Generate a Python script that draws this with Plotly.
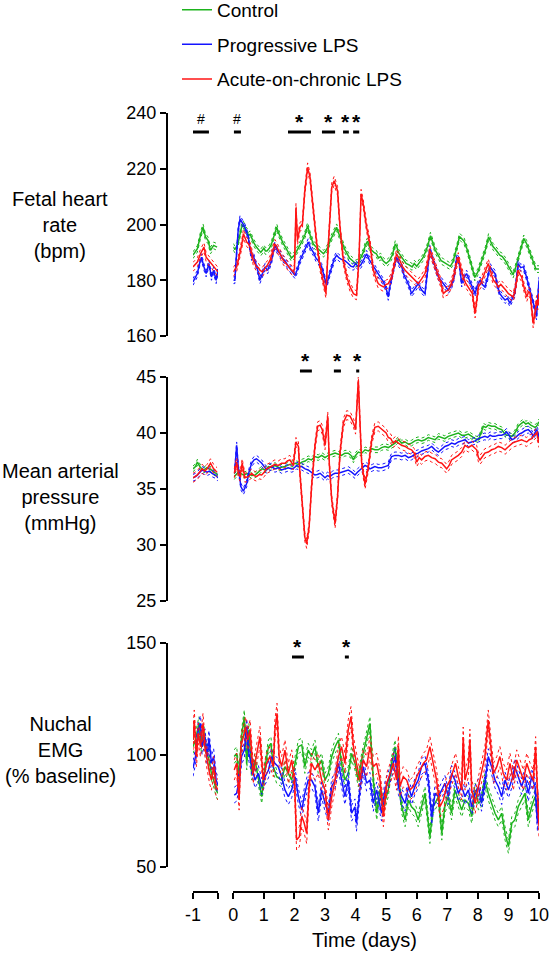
import numpy as np
import plotly.graph_objects as go

# ---------------- DATA ----------------
groups = ["Control", "Progressive LPS", "Acute-on-chronic LPS"]
colors = ["#1db31d", "#1414ff", "#ff1414"]

# Fetal heart rate (bpm) - baseline (day -1)
fhr_base_t = {
    "Control": [-1.0, -0.92, -0.86, -0.76, -0.68, -0.60, -0.52, -0.44, -0.34, -0.23],
    "Progressive LPS": [-1.0, -0.86, -0.79, -0.73, -0.65, -0.58, -0.49, -0.41, -0.34, -0.26, -0.2],
    "Acute-on-chronic LPS": [-1.0, -0.92, -0.86, -0.76, -0.65, -0.58, -0.49, -0.39, -0.28, -0.2],
}
fhr_base_v = {
    "Control": [189, 190.5, 191.3, 196.1, 199, 195.5, 194.3, 190.7, 192.5, 191.9],
    "Progressive LPS": [179.4, 182.4, 186, 188.3, 184.8, 182.4, 186, 181.2, 183.6, 180, 183.6],
    "Acute-on-chronic LPS": [184.8, 186.0, 186.5, 189.5, 191.9, 188.3, 187.1, 185.4, 184.2, 183],
}
fhr_t = {
    "Control": [0.0, 0.05, 0.1, 0.15, 0.21, 0.27, 0.33, 0.4, 0.45, 0.5, 0.55, 0.6, 0.67, 0.75, 0.82, 0.9, 1.0, 1.05,
                1.1, 1.18, 1.25, 1.33, 1.42, 1.48, 1.55, 1.62, 1.7, 1.8, 1.9, 2.0, 2.1, 2.18, 2.25, 2.35,
                2.43, 2.52, 2.57, 2.62, 2.7, 2.8, 2.88, 2.95, 3.02, 3.1, 3.18, 3.25, 3.38, 3.44, 3.5, 3.58, 3.65,
                3.72, 3.8, 3.9, 4.0, 4.1, 4.18, 4.25, 4.32, 4.39, 4.45, 4.5, 4.6, 4.68, 4.75, 4.82, 4.9, 5.0, 5.1,
                5.2, 5.3, 5.35, 5.4, 5.5, 5.58, 5.65, 5.75, 5.85, 5.92, 6.0, 6.1, 6.2, 6.28, 6.35, 6.45, 6.52, 6.6,
                6.7, 6.8, 6.88, 6.95, 7.02, 7.1, 7.18, 7.25, 7.32, 7.4, 7.47, 7.55, 7.65, 7.75, 7.82, 7.9, 8.0, 8.1,
                8.18, 8.25, 8.35, 8.42, 8.5, 8.58, 8.65, 8.72, 8.8, 8.9, 9.0, 9.08, 9.15, 9.22, 9.3, 9.4, 9.5, 9.55,
                9.6, 9.7, 9.8, 9.85, 9.9, 10.0],
    "Progressive LPS": [0.0, 0.05, 0.11, 0.16, 0.22, 0.27, 0.33, 0.38, 0.44, 0.49, 0.55, 0.6, 0.65, 0.71, 0.79, 0.87,
                        0.95, 1.04, 1.12, 1.2, 1.25, 1.3, 1.36, 1.45, 1.53, 1.6, 1.69, 1.77, 1.85, 1.93, 2.02, 2.1,
                        2.18, 2.26, 2.34, 2.45, 2.53, 2.62, 2.7, 2.78, 2.89, 2.97, 3.05, 3.13, 3.22, 3.3, 3.38, 3.46,
                        3.54, 3.65, 3.76, 3.85, 3.93, 4.0, 4.09, 4.17, 4.25, 4.36, 4.44, 4.53, 4.62, 4.74, 4.82, 4.91,
                        5.0, 5.07, 5.12, 5.18, 5.26, 5.34, 5.42, 5.51, 5.58, 5.67, 5.75, 5.83, 5.94, 6.05, 6.16, 6.27,
                        6.35, 6.43, 6.48, 6.54, 6.62, 6.71, 6.79, 6.87, 6.95, 7.03, 7.14, 7.22, 7.31, 7.38, 7.47, 7.55,
                        7.63, 7.72, 7.8, 7.91, 7.98, 8.07, 8.15, 8.23, 8.32, 8.4, 8.48, 8.56, 8.64, 8.72, 8.8, 8.89,
                        8.97, 9.05, 9.13, 9.21, 9.27, 9.32, 9.4, 9.49, 9.57, 9.65, 9.73, 9.81, 9.87, 9.92, 9.96, 10.0],
    "Acute-on-chronic LPS": [0.0, 0.06, 0.11, 0.16, 0.22, 0.28, 0.33, 0.39, 0.44, 0.5, 0.55, 0.6, 0.65, 0.7, 0.76,
                             0.82, 0.87, 0.95, 1.04, 1.12, 1.2, 1.28, 1.36, 1.42, 1.47, 1.55, 1.64, 1.72, 1.8, 1.88,
                             1.96, 2.0, 2.05, 2.1, 2.18, 2.26, 2.34, 2.43, 2.51, 2.62, 2.73, 2.84, 2.94, 3.03, 3.11,
                             3.22, 3.3, 3.41, 3.49, 3.6, 3.71, 3.82, 3.93, 4.03, 4.11, 4.18, 4.25, 4.36, 4.47, 4.58,
                             4.66, 4.74, 4.82, 4.91, 5.0, 5.07, 5.18, 5.26, 5.34, 5.45, 5.53, 5.62, 5.72, 5.83, 5.94,
                             6.05, 6.16, 6.27, 6.35, 6.43, 6.54, 6.62, 6.71, 6.79, 6.87, 6.95, 7.03, 7.12, 7.2, 7.28,
                             7.36, 7.44, 7.52, 7.6, 7.69, 7.76, 7.82, 7.91, 8.02, 8.1, 8.18, 8.26, 8.34, 8.42, 8.51,
                             8.59, 8.67, 8.75, 8.83, 8.91, 9.0, 9.08, 9.16, 9.24, 9.32, 9.38, 9.43, 9.52, 9.6, 9.66,
                             9.71, 9.76, 9.81, 9.87, 9.92, 9.96, 10.0],
}
fhr_v = {
    "Control": [192, 191, 192, 193, 196, 199, 200, 198, 197.5, 196, 196.5, 195, 193.5, 192, 191, 190, 191.5, 190.5,
                190.5, 191.5, 193, 195.5, 199, 197, 195, 193.5, 192, 190, 188, 189, 191, 192.5, 194, 196.5,
                199.5, 196, 194.5, 193, 192, 191, 190, 189.5, 190.5, 192, 194.5, 196, 199, 197, 195, 193, 191,
                189.5, 188, 187, 186, 186.5, 188.5, 190, 192.5, 194, 192, 191, 190, 189.5, 188, 188.5, 187, 186, 187,
                189, 193, 192, 190, 188.5, 187.5, 186, 185.5, 184.8, 186, 185, 186.5, 188, 190, 192, 196, 193.5, 191,
                189, 187, 186.5, 186, 185.5, 185, 186.5, 189, 192, 195.7, 195, 194, 191, 187, 184, 181, 183, 186,
                188.5, 191, 195.5, 194, 192, 191, 190, 189, 188.5, 187, 185, 183.5, 182, 184, 187, 191, 195, 194,
                193, 190, 187, 185.5, 184, 184],
    "Progressive LPS": [180, 180, 190, 198, 202, 201, 200, 199, 197, 195.5, 191, 188.3, 189, 187, 184, 180, 182,
                        184.8, 183.5, 186, 187, 190, 192.5, 190.5, 189.5, 188, 187, 185.5, 184, 183, 181.8, 184,
                        187, 189, 190.7, 193.7, 191.5, 190, 188, 187, 184.8, 181, 178.2, 181.5, 184.8, 187.5, 189,
                        188, 187.5, 187, 186, 185, 184.8, 186, 184.8, 185.5, 187, 189.5, 187.5, 186, 184.5, 182.4, 181,
                        179.4, 177, 174, 177.5, 181, 185, 188.3, 186, 184.8, 182, 180, 178, 175.2, 177, 178.8, 176.5,
                        175.2, 183, 191.3, 189, 187, 183.5, 181.2, 180, 178.8, 177.5, 176.4, 178.2, 181, 188.3, 187,
                        178.8, 181, 182.4, 180, 177.6, 175.2, 178, 180, 178.5, 177.6, 181, 184.8, 183.5, 182.4, 178,
                        175.2, 174, 172.9, 173.5, 171.7, 173.5, 175.2, 181, 186, 184.5, 184.8, 182, 178.8, 175, 171.7,
                        169.5, 167, 172, 180],
    "Acute-on-chronic LPS": [183, 184, 184.8, 187, 189.5, 193, 196.7, 195, 193.7, 193, 191.9, 190, 187.1, 186, 184.8,
                             184.5, 183.6, 183, 184.2, 185.5, 187.1, 190, 193, 192, 190.7, 189, 187.1, 186, 184.8,
                             184, 183, 184, 206, 194.3, 199, 200.2, 212.1, 220.5, 217, 205, 193.1, 184.8, 180,
                             175.2, 193.1, 213.3, 215.7, 212.1, 199, 187.1, 181.2, 177.6, 175.2, 174.6, 187.1, 211,
                             207.4, 199, 193.1, 183.6, 181, 178.8, 178.2, 177.6, 178.5, 178.8, 181.2, 185, 189.5, 187.1,
                             185, 183.6, 182.5, 181.2, 180, 178.8, 180.5, 182.4, 186, 190.7, 187.1, 184.5, 182.4, 179,
                             175.2, 176, 176.4, 178.5, 181.2, 184.5, 188.3, 184.5, 181.2, 179, 177.6, 176.5, 175.2,
                             168.1, 177.6, 179, 181.2, 184, 186, 183, 180, 179, 177.6, 178.5, 177.6, 176.5, 175.2,
                             174.5, 174, 178, 183.6, 182, 181.2, 177, 174, 176, 175.2, 170, 164.5, 168, 172.9, 171,
                             175.2],
}
fhr_sem = {"Control": 1.2, "Progressive LPS": 1.2, "Acute-on-chronic LPS": 1.6}

# Mean arterial pressure (mmHg)
map_base_t = {
    "Control": [-1.0, -0.92, -0.86, -0.76, -0.65, -0.55, -0.49, -0.41, -0.34, -0.26, -0.2],
    "Progressive LPS": [-1.0, -0.92, -0.86, -0.71, -0.55, -0.47, -0.39, -0.28, -0.2],
    "Acute-on-chronic LPS": [-1.0, -0.86, -0.71, -0.62, -0.55, -0.44, -0.34, -0.23],
}
map_base_v = {
    "Control": [36.8, 37.0, 37.4, 36.9, 36.7, 36.9, 36.8, 36.7, 36.5, 36.4, 36.2],
    "Progressive LPS": [36.0, 36.1, 36.25, 36.7, 36.5, 36.6, 36.4, 36.25, 36.0],
    "Acute-on-chronic LPS": [36.0, 36.25, 36.8, 36.6, 36.8, 37.3, 36.8, 36.5],
}
map_t = {
    "Control": [0.03, 0.16, 0.33, 0.49, 0.6, 0.71, 0.82, 0.93, 1.04, 1.15, 1.25, 1.36, 1.5, 1.69, 1.85, 2.02, 2.13,
                2.24, 2.35, 2.45, 2.56, 2.67, 2.78, 2.89, 3.0, 3.11, 3.22, 3.33, 3.44, 3.54, 3.65, 3.76, 3.85, 3.93,
                4.0, 4.09, 4.2, 4.31, 4.42, 4.53, 4.63, 4.74, 4.85, 4.96, 5.07, 5.18, 5.29, 5.4, 5.51, 5.62, 5.73,
                5.83, 5.94, 6.05, 6.16, 6.27, 6.38, 6.49, 6.6, 6.71, 6.82, 6.92, 7.03, 7.14, 7.25, 7.36, 7.47, 7.58,
                7.69, 7.8, 7.91, 8.02, 8.1, 8.18, 8.26, 8.34, 8.45, 8.56, 8.67, 8.78, 8.86, 8.94, 9.02, 9.11, 9.21,
                9.32, 9.4, 9.49, 9.57, 9.65, 9.73, 9.81, 9.87, 9.92, 10.0],
    "Progressive LPS": [0.05, 0.11, 0.16, 0.25, 0.33, 0.44, 0.52, 0.6, 0.68, 0.76, 0.85, 0.93, 1.01, 1.09, 1.17, 1.25,
                        1.36, 1.47, 1.58, 1.69, 1.8, 1.91, 2.0, 2.07, 2.15, 2.24, 2.35, 2.45, 2.56, 2.67, 2.75, 2.84,
                        2.92, 3.0, 3.08, 3.16, 3.25, 3.33, 3.44, 3.54, 3.65, 3.76, 3.87, 3.98, 4.06, 4.14, 4.22, 4.31,
                        4.39, 4.47, 4.55, 4.63, 4.74, 4.85, 4.96, 5.07, 5.13, 5.18, 5.29, 5.4, 5.51, 5.62, 5.73, 5.83,
                        5.94, 6.05, 6.16, 6.27, 6.38, 6.49, 6.6, 6.71, 6.82, 6.92, 7.03, 7.14, 7.25, 7.36, 7.47, 7.58,
                        7.69, 7.8, 7.91, 8.02, 8.12, 8.23, 8.32, 8.4, 8.48, 8.56, 8.67, 8.78, 8.86, 8.94, 9.02, 9.11,
                        9.19, 9.27, 9.35, 9.43, 9.54, 9.65, 9.73, 9.81, 9.87, 9.92, 9.96, 10.0],
    "Acute-on-chronic LPS": [0.03, 0.11, 0.16, 0.22, 0.29, 0.38, 0.49, 0.6, 0.68, 0.76, 0.85, 0.93, 1.01, 1.09, 1.17,
                             1.25, 1.36, 1.47, 1.58, 1.69, 1.77, 1.85, 1.96, 2.05, 2.13, 2.18, 2.26, 2.34, 2.4, 2.48,
                             2.56, 2.67, 2.76, 2.84, 2.91, 3.0, 3.09, 3.14, 3.22, 3.33, 3.41, 3.49, 3.6, 3.71, 3.82,
                             3.93, 4.0, 4.06, 4.09, 4.14, 4.2, 4.31, 4.42, 4.53, 4.63, 4.74, 4.82, 4.91, 5.0, 5.07,
                             5.15, 5.23, 5.31, 5.4, 5.51, 5.62, 5.73, 5.83, 5.92, 6.0, 6.08, 6.16, 6.27, 6.38, 6.49,
                             6.6, 6.71, 6.82, 6.9, 6.98, 7.06, 7.14, 7.25, 7.36, 7.47, 7.58, 7.69, 7.8, 7.88, 7.96,
                             8.02, 8.07, 8.15, 8.23, 8.34, 8.45, 8.56, 8.67, 8.78, 8.89, 8.97, 9.05, 9.13, 9.21, 9.32,
                             9.43, 9.51, 9.6, 9.68, 9.76, 9.84, 9.92, 9.96, 10.0],
}
map_v = {
    "Control": [36.1, 36.5, 36.25, 36.4, 36.2, 36.25, 36.5, 36.8, 36.7, 37.0, 36.9, 37.1, 36.9, 37.0, 37.2, 37.3, 37.2,
                37.4, 37.5, 37.7, 37.6, 37.9, 37.8, 38.0, 37.8, 38.0, 38.1, 38.2, 38.1, 38.0, 38.2, 38.2, 38.0, 37.6,
                38.0, 38.3, 38.2, 38.5, 38.4, 38.6, 38.5, 38.5, 38.7, 38.8, 38.7, 38.9, 39.1, 39.4, 39.1, 39.2, 39.0,
                39.1, 39.3, 39.4, 39.3, 39.4, 39.6, 39.5, 39.4, 39.7, 39.6, 39.5, 39.7, 39.8, 39.9, 40.0, 39.8, 39.8,
                39.9, 39.7, 39.5, 39.4, 40.1, 40.6, 40.5, 40.7, 40.6, 40.6, 40.4, 40.3, 40.0, 39.8, 39.8, 39.7, 40.0,
                40.6, 40.8, 41.0, 40.8, 40.9, 40.7, 40.6, 40.5, 40.6, 41.0],
    "Progressive LPS": [36.7, 38.9, 37.0, 35.2, 34.8, 35.5, 36.6, 37.3, 37.6, 37.7, 37.5, 37.3, 37.0, 36.7, 36.9, 37.0,
                        36.8, 36.9, 36.7, 36.8, 36.9, 36.8, 36.9, 37.1, 37.0, 37.0, 36.8, 36.7, 36.5, 36.25, 36.3, 36.4,
                        36.2, 36.0, 36.2, 36.1, 36.3, 36.4, 36.4, 36.5, 36.6, 36.7, 36.5, 36.25, 36.5, 36.7, 36.9,
                        37.1, 37.0, 36.8, 36.9, 37.0, 36.9, 36.9, 37.0, 37.1, 37.6, 37.9, 38.0, 38.0, 37.9, 38.0, 37.8,
                        37.9, 38.1, 38.2, 38.4, 38.5, 38.6, 38.8, 38.5, 38.3, 38.6, 38.8, 38.9, 39.1, 39.0, 39.2, 39.3,
                        39.4, 39.1, 39.2, 39.3, 39.5, 39.6, 39.7, 39.6, 39.8, 39.7, 39.7, 39.8, 39.8, 39.9, 40.1, 39.8,
                        39.4, 39.5, 39.7, 39.9, 40.0, 40.2, 40.3, 40.1, 39.7, 40.0, 40.3, 40.1, 39.2],
    "Acute-on-chronic LPS": [36.4, 37.4, 36.5, 36.1, 37.3, 36.0, 36.1, 36.4, 36.2, 36.1, 36.3, 36.25, 36.5, 36.8, 36.9,
                             37.0, 37.2, 37.1, 37.3, 37.3, 37.5, 37.6, 37.1, 39.2, 38.8, 36.4, 33.4, 30.7, 30.1, 31.6,
                             35.2, 38.8, 40.6, 40.7, 40.3, 38.9, 41.5, 37.3, 34.0, 31.9, 34.3, 38.2, 40.9, 41.6, 41.5,
                             40.9, 40.3, 42.9, 44.7, 41.2, 37.3, 35.4, 37.0, 39.4, 40.5, 40.6, 40.4, 40.2, 40.0, 39.6,
                             39.5, 39.1, 39.3, 39.1, 38.9, 38.8, 38.6, 38.5, 38.2, 37.4, 37.8, 37.6, 37.9, 38.0, 37.8,
                             37.7, 37.4, 37.3, 37.0, 36.8, 37.1, 37.6, 37.8, 38.0, 38.3, 38.9, 38.7, 38.9, 38.7, 38.5,
                             37.8, 37.6, 37.9, 38.2, 38.3, 38.5, 38.6, 38.8, 38.7, 38.5, 38.7, 38.9, 39.1, 39.2, 39.3,
                             39.4, 39.3, 39.2, 39.4, 39.5, 39.8, 40.0, 39.6, 39.1],
}
map_sem = {"Control": 0.25, "Progressive LPS": 0.3, "Acute-on-chronic LPS": 0.4}

# Nuchal EMG (% baseline)
emg_base_t = {
    "Control": [-1.0, -0.92, -0.81, -0.73, -0.65, -0.58, -0.49, -0.41, -0.34, -0.26, -0.2],
    "Progressive LPS": [-1.0, -0.92, -0.83, -0.76, -0.71, -0.62, -0.55, -0.49, -0.41, -0.34, -0.26, -0.2],
    "Acute-on-chronic LPS": [-1.0, -0.96, -0.89, -0.83, -0.76, -0.68, -0.62, -0.55, -0.47, -0.41, -0.34, -0.26, -0.2],
}
emg_base_v = {
    "Control": [103.7, 106.7, 114.1, 103.7, 109.7, 102.2, 97.8, 91.8, 88.8, 84.4, 82.9],
    "Progressive LPS": [94.0, 99.3, 111.2, 114.1, 103.7, 108.2, 99.3, 107.4, 96.3, 99.3, 88.8, 86.6],
    "Acute-on-chronic LPS": [106.7, 115.6, 99.3, 109.7, 103.7, 114.1, 103.7, 97.8, 91.8, 88.8, 94.8, 85.9, 84.4],
}
emg_t = {
    "Control": [0.03, 0.11, 0.19, 0.27, 0.36, 0.44, 0.51, 0.6, 0.71, 0.82, 0.93, 1.04, 1.15, 1.23, 1.31, 1.42, 1.58,
                1.69, 1.8, 1.91, 2.02, 2.13, 2.24, 2.34, 2.45, 2.56, 2.67, 2.78, 2.89, 3.0, 3.11, 3.22, 3.33, 3.44,
                3.54, 3.65, 3.76, 3.87, 3.98, 4.09, 4.2, 4.36, 4.47, 4.58, 4.69, 4.8, 4.91, 5.07, 5.18, 5.29, 5.4,
                5.51, 5.62, 5.73, 5.83, 5.94, 6.05, 6.16, 6.27, 6.43, 6.54, 6.71, 6.82, 6.92, 7.03, 7.14, 7.25, 7.36,
                7.47, 7.58, 7.69, 7.8, 7.91, 8.02, 8.12, 8.23, 8.34, 8.45, 8.56, 8.67, 8.78, 8.89, 9.0, 9.11, 9.21,
                9.32, 9.43, 9.54, 9.65, 9.76, 9.87, 10.0],
    "Progressive LPS": [0.03, 0.11, 0.19, 0.27, 0.36, 0.44, 0.51, 0.6, 0.71, 0.82, 0.93, 1.04, 1.15, 1.25, 1.36, 1.47,
                        1.58, 1.69, 1.8, 1.91, 2.02, 2.13, 2.24, 2.34, 2.45, 2.56, 2.67, 2.78, 2.89, 3.0, 3.11, 3.22,
                        3.33, 3.44, 3.54, 3.65, 3.76, 3.87, 3.98, 4.03, 4.14, 4.25, 4.36, 4.47, 4.58, 4.69, 4.85,
                        4.96, 5.07, 5.18, 5.29, 5.4, 5.51, 5.62, 5.73, 5.83, 5.94, 6.05, 6.16, 6.27, 6.38, 6.49, 6.6,
                        6.71, 6.82, 6.92, 7.03, 7.14, 7.25, 7.36, 7.47, 7.58, 7.69, 7.8, 7.91, 8.02, 8.12, 8.23, 8.34,
                        8.45, 8.56, 8.67, 8.78, 8.89, 9.0, 9.11, 9.21, 9.32, 9.43, 9.54, 9.65, 9.76, 9.87, 9.95, 10.0],
    "Acute-on-chronic LPS": [0.03, 0.11, 0.19, 0.25, 0.33, 0.4, 0.47, 0.55, 0.65, 0.76, 0.87, 0.98, 1.09, 1.2, 1.31,
                             1.36, 1.43, 1.5, 1.58, 1.69, 1.8, 1.91, 2.0, 2.07, 2.16, 2.24, 2.32, 2.4, 2.48, 2.56,
                             2.67, 2.78, 2.89, 3.0, 3.11, 3.22, 3.33, 3.44, 3.54, 3.65, 3.76, 3.85, 3.93, 4.03, 4.14,
                             4.25, 4.36, 4.47, 4.58, 4.69, 4.8, 4.91, 5.02, 5.13, 5.23, 5.34, 5.4, 5.45, 5.56, 5.67,
                             5.78, 5.89, 6.0, 6.11, 6.22, 6.32, 6.43, 6.54, 6.65, 6.76, 6.87, 6.98, 7.09, 7.2, 7.27,
                             7.36, 7.47, 7.52, 7.58, 7.69, 7.74, 7.8, 7.91, 8.02, 8.12, 8.23, 8.34, 8.43, 8.51, 8.62,
                             8.72, 8.83, 8.94, 9.05, 9.16, 9.27, 9.38, 9.49, 9.6, 9.71, 9.81, 9.89, 9.96, 10.0],
}
emg_v = {
    "Control": [99.3, 100.7, 90.3, 108.2, 117.1, 96.3, 111.2, 91.8, 97.8, 88.8, 81.4, 94.8, 103.7, 105.2, 94.8, 90.3,
                88.8, 94.8, 91.8, 88.8, 96.3, 103.7, 104.5, 94.8, 102.2, 99.3, 103.7, 94.8, 97.8, 88.8, 91.8, 99.3,
                103.7, 106.7, 96.3, 88.8, 91.8, 100.7, 96.3, 88.8, 97.8, 108.2, 114.1, 88.8, 74.0, 84.4, 76.9, 84.4,
                96.3, 103.7, 88.8, 76.9, 71.0, 79.9, 76.9, 75.4, 71.0, 76.9, 82.9, 63.5, 76.9, 81.4, 65.0, 76.9,
                81.4, 74.0, 84.4, 79.9, 75.4, 79.9, 78.4, 72.5, 84.4, 78.4, 79.9, 88.8, 82.9, 78.4, 74.0, 71.0, 74.0,
                65.0, 59.1, 69.5, 71.0, 76.9, 79.9, 82.9, 71.0, 76.9, 81.4, 74.0],
    "Progressive LPS": [82.1, 82.9, 88.8, 99.3, 102.2, 112.6, 100.7, 94.8, 88.8, 91.8, 85.9, 90.3, 93.3, 99.3, 96.3,
                        94.8, 90.3, 84.4, 81.4, 84.4, 90.3, 81.4, 75.4, 82.9, 88.8, 88.8, 85.9, 74.0, 84.4, 78.4,
                        74.0, 85.9, 88.8, 96.3, 88.8, 81.4, 88.8, 74.0, 76.9, 69.5, 84.4, 94.8, 87.4, 88.8, 78.4,
                        84.4, 74.0, 84.4, 88.8, 93.3, 99.3, 85.9, 81.4, 78.4, 85.9, 81.4, 85.9, 88.8, 94.8, 96.3,
                        88.8, 72.5, 82.9, 81.4, 84.4, 87.4, 81.4, 91.8, 88.8, 82.9, 85.9, 81.4, 84.4, 76.9, 82.9,
                        85.9, 78.4, 87.4, 99.3, 94.8, 88.8, 85.9, 81.4, 88.8, 84.4, 88.8, 94.8, 90.3, 85.9, 90.3,
                        82.9, 90.3, 85.9, 69.5, 79.9],
    "Acute-on-chronic LPS": [93.3, 96.3, 79.9, 103.7, 108.2, 112.6, 106.7, 111.2, 91.8, 99.3, 108.2, 88.8, 96.3, 99.3,
                             94.8, 111.2, 118.6, 99.3, 94.8, 102.2, 91.8, 97.8, 88.8, 62.1, 63.5, 72.5, 69.5, 65.0,
                             85.9, 96.3, 93.3, 96.3, 88.8, 84.4, 71.0, 81.4, 88.8, 99.3, 103.7, 96.3, 111.2, 117.1,
                             103.7, 96.3, 88.8, 97.8, 94.8, 103.7, 94.8, 96.3, 88.8, 72.5, 87.4, 91.8, 96.3, 88.8,
                             104.0, 85.9, 90.3, 88.8, 84.4, 85.9, 90.3, 93.3, 96.3, 97.8, 103.7, 96.3, 88.8, 76.9,
                             79.9, 85.9, 88.8, 93.3, 96.3, 90.3, 84.4, 108.0, 88.8, 94.8, 107.0, 84.4, 78.4, 85.9,
                             91.8, 99.3, 115.6, 102.2, 91.8, 94.8, 99.3, 91.8, 88.8, 96.3, 88.8, 97.8, 93.3, 88.8,
                             96.3, 91.8, 88.8, 103.7, 79.9, 68.0],
}
emg_sem = {"Control": 3.0, "Progressive LPS": 3.5, "Acute-on-chronic LPS": 4.5}

# significance markers: (start day, end day, label)
fhr_sig_base = [(-1.0, -0.49, "#")]
fhr_sig = [(0.02, 0.25, "#"), (1.79, 2.54, "*"), (2.90, 3.33, "*"), (3.59, 3.78, "*"), (3.92, 4.12, "*")]
map_sig = [(2.18, 2.57, "*"), (3.29, 3.52, "*"), (4.02, 4.12, "*")]
emg_sig = [(1.92, 2.31, "*"), (3.65, 3.78, "*")]

x_ticks = list(range(0, 11))

# ---------------- FIGURE ----------------
W, H = 550, 960
FONT = "Arial, Liberation Sans, sans-serif"


def fx(px):
    return px / W


def fy(py):
    return 1 - py / H


fig = go.Figure()

panels = [
    ("y", fhr_base_t, fhr_base_v, fhr_t, fhr_v, fhr_sem),
    ("y2", map_base_t, map_base_v, map_t, map_v, map_sem),
    ("y3", emg_base_t, emg_base_v, emg_t, emg_v, emg_sem),
]

for pi, (yax, bt, bv, mt, mv, sem) in enumerate(panels):
    for g, c in zip(groups, colors):
        s = sem[g]
        for xax, tt, vv in (("x", bt[g], bv[g]), ("x2", mt[g], mv[g])):
            v = np.array(vv, dtype=float)
            for off in (s, -s):
                fig.add_trace(go.Scatter(x=tt, y=v + off, xaxis=xax, yaxis=yax, mode="lines",
                                         line=dict(color=c, width=1, dash="dot"), showlegend=False,
                                         hoverinfo="skip"))
            fig.add_trace(go.Scatter(x=tt, y=v, xaxis=xax, yaxis=yax, mode="lines",
                                     line=dict(color=c, width=1.5), name=g,
                                     legendgroup=g,
                                     showlegend=(pi == 0 and xax == "x2"), hoverinfo="skip"))

axis_common = dict(showgrid=False, zeroline=False, showline=True, linecolor="black", linewidth=2,
                   ticks="outside", ticklen=6, tickwidth=2, tickcolor="black",
                   tickfont=dict(family=FONT, size=18, color="black"))

y_line = fx(167)
x_line = fy(892)

fig.update_layout(
    width=W, height=H, autosize=False,
    margin=dict(l=0, r=0, t=0, b=0, autoexpand=False),
    paper_bgcolor="white", plot_bgcolor="white",
    font=dict(family=FONT, color="black"),
    xaxis=dict(domain=[fx(193), fx(218)], range=[-1, -0.2], anchor="free", position=x_line,
               tickvals=[-1, -0.2], ticktext=["-1", ""], **axis_common),
    xaxis2=dict(domain=[fx(233.3), fx(539)], range=[0, 10], anchor="free", position=x_line,
                tickvals=x_ticks, **axis_common),
    yaxis=dict(domain=[fy(336), fy(113)], range=[160, 240], dtick=20, anchor="free", position=y_line,
               **axis_common),
    yaxis2=dict(domain=[fy(601), fy(377)], range=[25, 45], dtick=5, anchor="free", position=y_line,
                **axis_common),
    yaxis3=dict(domain=[fy(867), fy(643)], range=[50, 150], dtick=50, anchor="free", position=y_line,
                **axis_common),
    legend=dict(x=fx(177), y=1.0096, xanchor="left", yanchor="top", font=dict(family=FONT, size=19),
                tracegroupgap=7, bgcolor="rgba(0,0,0,0)"),
    showlegend=True,
)

# y-axis titles (horizontal text at left)
titles = [("Fetal heart<br>rate<br>(bpm)", 225), ("Mean arterial<br>pressure<br>(mmHg)", 497),
          ("Nuchal<br>EMG<br>(% baseline)", 750)]
for txt, py in titles:
    fig.add_annotation(text=txt, x=fx(60), y=fy(py), xref="paper", yref="paper", showarrow=False,
                       font=dict(family=FONT, size=20, color="black"), align="center",
                       xanchor="center", yanchor="middle")

fig.add_annotation(text="Time (days)", x=fx(364), y=fy(940), xref="paper", yref="paper", showarrow=False,
                   font=dict(family=FONT, size=20, color="black"), xanchor="center", yanchor="middle")

# significance bars
sig_sets = [("x", fhr_sig_base, 132), ("x2", fhr_sig, 132), ("x2", map_sig, 371), ("x2", emg_sig, 657)]
for xr, sigs, py in sig_sets:
    for a, b, lab in sigs:
        fig.add_shape(type="line", xref=xr, yref="paper", x0=a, x1=b, y0=fy(py), y1=fy(py),
                      line=dict(color="black", width=3))
        if lab == "*":
            fig.add_annotation(text="<b>*</b>", x=(a + b) / 2, y=fy(py), xref=xr, yref="paper",
                               showarrow=False, font=dict(family=FONT, size=21, color="black"),
                               xanchor="center", yanchor="bottom", yshift=-3)
        else:
            fig.add_annotation(text="#", x=(a + b) / 2, y=fy(py), xref=xr, yref="paper",
                               showarrow=False, font=dict(family=FONT, size=14, color="black"),
                               xanchor="center", yanchor="bottom", yshift=3)

fig.write_html("out.html", config={"displayModeBar": False},
               post_script="document.body.style.margin='0';")
